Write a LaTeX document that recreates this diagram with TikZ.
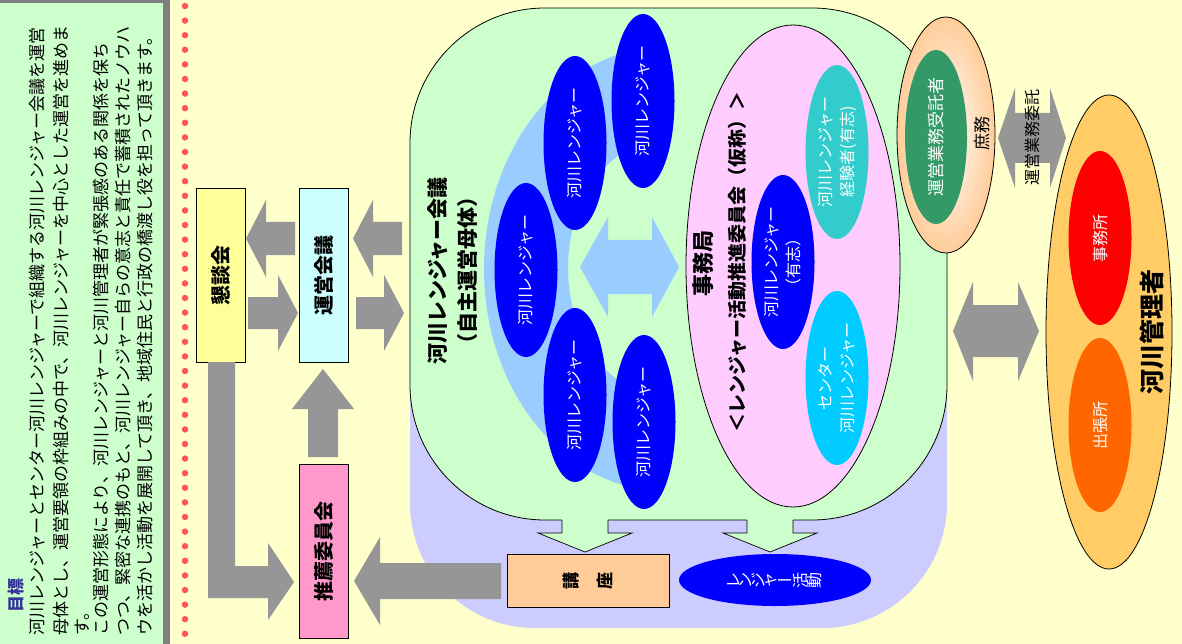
\documentclass[tikz,border=0pt]{standalone}
\usepackage{fontspec}
\usepackage{graphicx}
\setmainfont{Noto Sans CJK JP}
\usetikzlibrary{shapes.geometric}
\definecolor{bgy}{HTML}{FFFFCC}
\definecolor{pan}{HTML}{CCFFCC}
\definecolor{pangray}{HTML}{808080}
\definecolor{lav}{HTML}{CCCCFF}
\definecolor{lgreen}{HTML}{CCFFCC}
\definecolor{lblue}{HTML}{99CCFF}
\definecolor{rblue}{HTML}{0000FF}
\definecolor{pinkell}{HTML}{FFCCFF}
\definecolor{tealc}{HTML}{33CCCC}
\definecolor{cyanc}{HTML}{00CCFF}
\definecolor{peach}{HTML}{FFCC99}
\definecolor{agray}{HTML}{969696}
\definecolor{ybox}{HTML}{FFFF99}
\definecolor{cbox}{HTML}{CCFFFF}
\definecolor{pbox}{HTML}{FF99CC}
\definecolor{dgreen}{HTML}{339966}
\definecolor{mgr}{HTML}{FFCC66}
\definecolor{redc}{HTML}{FF0000}
\definecolor{orangec}{HTML}{FF6600}
\definecolor{dotred}{HTML}{FF5555}
\definecolor{goal}{HTML}{333399}
\newcommand\fsz[1]{\fontsize{#1pt}{#1pt}\selectfont}
\newcommand\vt[1]{\rotatebox{90}{#1}}
\begin{document}
\begin{tikzpicture}[x=1pt,y=-1pt,
  every node/.style={inner sep=0pt},
  lefttext/.style={rotate=90, anchor=west, font=\fsz{17}},
  rangerell/.style={ellipse, rotate=90, minimum width=174pt, minimum height=63pt, fill=rblue, text=white, font=\fsz{16}},
  smallell/.style={ellipse, rotate=90, minimum width=174pt, minimum height=63pt, text=white, align=center, font=\fontsize{16pt}{22pt}\selectfont},
  boxs/.style={draw=black, line width=0.8pt, rotate=90, minimum width=174pt, minimum height=49pt, font=\bfseries\fsz{20}},
  garrow/.style={fill=agray},
  grarrow/.style={fill=lgreen, draw=black, line width=0.7pt}
]
% background
\fill[bgy] (0,0) rectangle (1182,644);
\useasboundingbox (0,0) rectangle (1182,644);
% left panel
\fill[pangray] (0,0) rectangle (170,644);
\fill[pan] (0,3) rectangle (163,644);
\node[rotate=90, anchor=west, font=\bfseries\fsz{17}, text=goal] (goaltitle) at (16,613) {目標};
\node[lefttext] (l1) at (37,636) {河川レンジャーとセンター河川レンジャーで組織する河川レンジャー会議を運営};
\node[lefttext] (l2) at (61,636) {母体とし、運営要領の枠組みの中で、河川レンジャーを中心とした運営を進めま};
\node[lefttext] (l3) at (82,636) {す。};
\node[lefttext] (l4) at (101,636) {この運営形態により、河川レンジャーと河川管理者が緊張感のある関係を保ち};
\node[lefttext] (l5) at (123,636) {つつ、緊密な連携のもと、河川レンジャー自らの意志と責任で蓄積されたノウハ};
\node[lefttext] (l6) at (145,636) {ウを活かし活動を展開して頂き、地域住民と行政の橋渡し役を担って頂きます。};
% dotted red line
\draw[dotred, line width=6.5pt, line cap=round, dash pattern=on 0pt off 14.6pt] (185,6) -- (185,644);
% lavender region
\fill[lav, rounded corners=125pt] (410,150) rectangle (947,628);
% green assembly box
\filldraw[fill=lgreen, draw=black, line width=0.8pt, rounded corners=135pt] (410,8) rectangle (947,520);
% crescent
\begin{scope}
\clip (400,0) rectangle (662,644);
\fill[lblue, even odd rule] (665,269) ellipse [x radius=181, y radius=222] (665,268) ellipse [x radius=97, y radius=128];
\end{scope}
% light blue double arrow
\fill[lblue] (580,267) -- (608,217) -- (608,240) -- (652,240) -- (652,217) -- (679,267) -- (652,317) -- (652,294) -- (608,294) -- (608,317) -- cycle;
% ranger ellipses
\node[rangerell] (r1) at (643,101) {河川レンジャー};
\node[rangerell] (r2) at (575,143) {河川レンジャー};
\node[rangerell] (r3) at (526,270) {河川レンジャー};
\node[rangerell] (r4) at (575,395) {河川レンジャー};
\node[rangerell] (r5) at (644,422) {河川レンジャー};
% titles
\node[rotate=90, font=\bfseries\fsz{21}] (t1) at (438,271) {河川レンジャー会議};
\node[rotate=90, font=\bfseries\fsz{21}] (t2) at (468,270) {（自主運営母体）};
% pink committee ellipse
\node[ellipse, draw=black, line width=0.8pt, fill=pinkell, rotate=90, minimum width=482pt, minimum height=214pt] (pink) at (793,266) {};
\node[rotate=90, font=\bfseries\fsz{22}] (jim) at (703,263) {事務局};
\node[rotate=90, font=\bfseries\fsz{19}] (iin) at (737,262) {＜レンジャー活動推進委員会（仮称）＞};
\node[smallell, fill=rblue] (vol) at (783,262) {河川レンジャー\\（有志）};
\node[smallell, fill=tealc] (exp) at (837,152) {河川レンジャー\\経験者(有志)};
\node[smallell, fill=cyanc] (cen) at (837,378) {センター\\河川レンジャー};
% green down arrows
\fill[lgreen] (562,519) -- (562,533) -- (538,533) -- (585,552) -- (632,533) -- (608,533) -- (608,519) -- cycle;
\draw[black, line width=0.7pt] (562,520) -- (562,533) -- (538,533) -- (585,552) -- (632,533) -- (608,533) -- (608,520);
\fill[lgreen] (747,519) -- (747,533) -- (723,533) -- (770,552) -- (817,533) -- (793,533) -- (793,519) -- cycle;
\draw[black, line width=0.7pt] (747,520) -- (747,533) -- (723,533) -- (770,552) -- (817,533) -- (793,533) -- (793,520);
% kouza and activity
\node[draw=black, line width=0.8pt, fill=peach, minimum width=162pt, minimum height=53pt, font=\bfseries\fsz{17}] (kouza) at (588,580.5) {\vt{講}\hspace{17pt}\vt{座}};
\node[ellipse, fill=rblue, text=white, minimum width=192pt, minimum height=52pt, font=\fsz{16}] (act) at (775,580) {\vt{レ}\vt{ン}\vt{ジ}\vt{ャ}\raisebox{0.1em}{ー}\vt{活}\vt{動}};
% left boxes
\node[boxs, fill=ybox] (kon) at (220.5,275) {懇談会};
\node[boxs, fill=cbox] (unei) at (323.5,275) {運営会議};
\node[boxs, fill=pbox] (suisen) at (323.5,551) {推薦委員会};
% gray arrows
\fill[garrow] (295,222) -- (266,222) -- (266,200) -- (246,238.5) -- (266,277) -- (266,255) -- (295,255) -- cycle;
\fill[garrow] (248,297) -- (278,297) -- (278,275) -- (298,313) -- (278,351) -- (278,329) -- (248,329) -- cycle;
\fill[garrow] (402,222) -- (373,222) -- (373,200) -- (353,238.5) -- (373,277) -- (373,255) -- (402,255) -- cycle;
\fill[garrow] (356,297) -- (384,297) -- (384,275) -- (404,313) -- (384,351) -- (384,329) -- (356,329) -- cycle;
\fill[garrow] (308,457) -- (308,409) -- (292,409) -- (323,369) -- (354,409) -- (338,409) -- (338,457) -- cycle;
\fill[garrow] (208,362) -- (208,598) -- (268,598) -- (268,620) -- (294,582) -- (268,543) -- (268,566) -- (235,566) -- (235,362) -- cycle;
\fill[garrow] (501,563) -- (380,563) -- (380,537) -- (354,581) -- (380,625) -- (380,599) -- (501,599) -- cycle;
\fill[garrow] (953,331) -- (973,282) -- (973,305) -- (1018,305) -- (1018,282) -- (1039,331) -- (1018,381) -- (1018,357) -- (973,357) -- (973,381) -- cycle;
\fill[garrow] (998,138) -- (1015,88) -- (1015,113) -- (1050,113) -- (1050,88) -- (1066,138) -- (1050,188) -- (1050,163) -- (1015,163) -- (1015,188) -- cycle;
\node[rotate=90, font=\fsz{16}] (itaku) at (1032,138) {運営業務委託};
% shomu ellipse
\node[ellipse, draw=black, line width=0.8pt, rotate=90, minimum width=236pt, minimum height=98pt, inner color=white, outer color=peach] (shomu) at (946,135) {};
\node[ellipse, rotate=90, minimum width=174pt, minimum height=62pt, fill=dgreen, text=white, font=\fsz{17}] (jutaku) at (936,137) {運営業務受託者};
\node[rotate=90, font=\fsz{17}] (shomutxt) at (982,134) {庶務};
% river manager
\node[ellipse, draw=black, line width=0.8pt, fill=mgr, rotate=90, minimum width=474pt, minimum height=126pt] (mgrell) at (1109,332) {};
\node[smallell, fill=redc] (jimusho) at (1100,238) {事務所};
\node[smallell, fill=orangec] (shucho) at (1100,425) {出張所};
\node[rotate=90, font=\bfseries\fsz{25}] (mgrtxt) at (1152,332) {河川管理者};
\end{tikzpicture}
\end{document}
